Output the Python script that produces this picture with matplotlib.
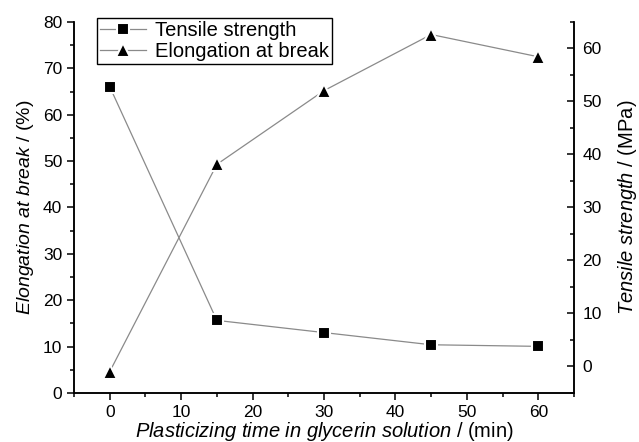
import matplotlib
matplotlib.use("Agg")
import matplotlib.pyplot as plt

plt.rcParams['font.family'] = ['Liberation Sans', 'DejaVu Sans']
plt.rcParams['mathtext.fontset'] = 'custom'
plt.rcParams['mathtext.it'] = 'Liberation Sans:italic'
plt.rcParams['mathtext.rm'] = 'Liberation Sans'

# plasticizing time (min)
time_min = [0, 15, 30, 45, 60]
# tensile strength (MPa), right axis
tensile = [52.8, 8.7, 6.4, 4.1, 3.8]
# elongation at break (%), left axis
elongation = [4.6, 49.3, 65.2, 77.3, 72.5]

fig = plt.figure(figsize=(6.39, 4.42), dpi=100)
ax = fig.add_axes([74 / 639, 1 - 393 / 442, 500 / 639, 371 / 442])
ax2 = ax.twinx()

# white marker edge leaves a small gap between line and marker
style = dict(color='#8a8a8a', linewidth=0.9, markerfacecolor='black',
             markeredgecolor='white', markeredgewidth=1.5)
l2, = ax.plot(time_min, elongation, marker='^', markersize=9.5,
              label='Elongation at break', **style)
l1, = ax2.plot(time_min, tensile, marker='s', markersize=8,
               label='Tensile strength', **style)

ax.set_xlim(-5, 65)
ax.set_ylim(0, 80)
ax2.set_ylim(-5, 65)

ax.set_xticks(range(0, 61, 10))
ax.set_xticks(range(-5, 66, 5), minor=True)
ax.set_yticks(range(0, 81, 10))
ax.set_yticks(range(0, 81, 5), minor=True)
ax2.set_yticks(range(0, 61, 10))
ax2.set_yticks(range(-5, 66, 5), minor=True)

for a in (ax, ax2):
    a.spines['top'].set_visible(False)
    for s in a.spines.values():
        s.set_linewidth(1.1)
ax.tick_params(which='both', direction='out', labelsize=12.5, width=1.1)
ax.tick_params(which='major', length=5)
ax.tick_params(which='minor', length=3)
ax2.tick_params(which='both', direction='in', labelsize=12.5, width=1.1)
ax2.tick_params(which='major', length=5, pad=6)
ax2.tick_params(which='minor', length=3)

ax.set_xlabel(r'$Plasticizing\ time\ in\ glycerin\ solution\ /$ (min)',
              fontsize=14.5, labelpad=0)
ax.set_ylabel(r'$Elongation\ at\ break\ /$ (%)', fontsize=14, labelpad=5)
ax2.set_ylabel(r'$Tensile\ strength\ /$ (MPa)', fontsize=14.5, labelpad=10)

leg = fig.legend(handles=[l1, l2], loc='upper left',
                 bbox_to_anchor=(97 / 639, 1 - 18 / 442),
                 bbox_transform=fig.transFigure, borderaxespad=0,
                 fontsize=14.5, fancybox=False, edgecolor='black',
                 framealpha=1, handlelength=2.3, borderpad=0.15,
                 labelspacing=0.1, handletextpad=0.45)
leg.get_frame().set_linewidth(1.0)

fig.savefig('out.png', dpi=100)
